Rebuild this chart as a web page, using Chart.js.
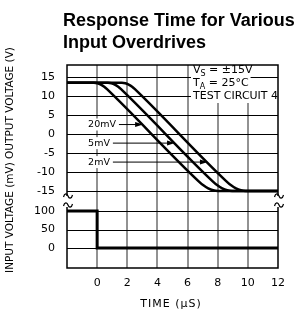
<!DOCTYPE html>
<html>
<head>
<meta charset="utf-8">
<script src="https://cdn.jsdelivr.net/npm/chart.js@4.4.0/dist/chart.umd.min.js"></script>
<style>
  html, body { margin: 0; padding: 0; background: #fff; }
</style>
</head>
<body>
<canvas id="chart" width="298" height="317"></canvas>
<script>
// tick labels
const timeTicks = [0, 2, 4, 6, 8, 10, 12];
const outTicks = [15, 10, 5, 0, -5, -10, -15];
const inTicks = [100, 50, 0];

// input step (mV)
const inputTime = [-2, 0, 0, 12];
const inputMv = [100, 100, 0, 0];

// output voltage (V) for each overdrive
const time20mV = [-2, -0.21, 0.02, 0.24, 0.47, 0.69, 6.72, 7.05, 7.37, 7.7, 8.02, 12];
const out20mV = [13.5, 13.5, 13.39, 13.05, 12.49, 11.7, -12.4, -13.54, -14.35, -14.84, -15, -15];
const time5mV = [-2, 0.72, 0.95, 1.17, 1.4, 1.62, 7.65, 7.98, 8.3, 8.63, 8.95, 12];
const out5mV = [13.5, 13.5, 13.39, 13.05, 12.49, 11.7, -12.4, -13.54, -14.35, -14.84, -15, -15];
const time2mV = [-2, 1.64, 1.87, 2.09, 2.32, 2.54, 8.56, 8.89, 9.21, 9.54, 9.86, 12];
const out2mV = [13.5, 13.5, 13.39, 13.05, 12.49, 11.7, -12.4, -13.54, -14.35, -14.84, -15, -15];

// curve labels with arrows
const arrowText = ['20mV', '5mV', '2mV'];
const arrowVolt = [2.5, -2.4, -7.4];
const arrowTipTime = [3.05, 5.17, 7.35];

// test conditions
const condMain = ['V', 'T', 'TEST CIRCUIT 4'];
const condSub = ['S', 'A', ''];
const condRest = [' = \u00b115V', ' = 25\u00b0C', ''];

const FONT = '"DejaVu Sans", sans-serif';
Chart.defaults.font.family = FONT;
Chart.defaults.color = '#000';

function pts(xs, ys) {
    return xs.map((x, i) => ({ x: x, y: ys[i] }));
}

function tilde(ctx, x, y) {
    ctx.beginPath();
    ctx.moveTo(x - 4.5, y + 1);
    ctx.bezierCurveTo(x - 3.5, y - 3, x - 1, y - 3, x, y);
    ctx.bezierCurveTo(x + 1, y + 3, x + 3.5, y + 3, x + 4.5, y - 1);
    ctx.stroke();
}

// grid drawn under the curves
const gridLines = {
    id: 'gridLines',
    beforeDatasetsDraw(chart) {
        const ctx = chart.ctx;
        const a = chart.chartArea;
        const xs = chart.scales.x, yo = chart.scales.yOut, yi = chart.scales.yIn;
        ctx.save();
        ctx.strokeStyle = '#777';
        ctx.lineWidth = 1.6;
        timeTicks.filter(v => v > -2 && v < 12).forEach(v => {
            const px = Math.round(xs.getPixelForValue(v));
            ctx.beginPath();
            ctx.moveTo(px, a.top);
            ctx.lineTo(px, a.bottom);
            ctx.stroke();
        });
        ctx.strokeStyle = '#000';
        ctx.lineWidth = 1;
        outTicks.forEach(v => {
            const py = Math.round(yo.getPixelForValue(v)) + 0.5;
            ctx.beginPath();
            ctx.moveTo(a.left, py);
            ctx.lineTo(a.right, py);
            ctx.stroke();
        });
        inTicks.forEach(v => {
            const py = Math.round(yi.getPixelForValue(v)) + 0.5;
            ctx.beginPath();
            ctx.moveTo(a.left, py);
            ctx.lineTo(a.right, py);
            ctx.stroke();
        });
        ctx.restore();
    }
};

const decor = {
    id: 'decor',
    afterDraw(chart) {
        const ctx = chart.ctx;
        const a = chart.chartArea;
        const xs = chart.scales.x, yo = chart.scales.yOut;
        const split = yo.bottom;
        ctx.save();
        ctx.fillStyle = '#000';

        // title
        ctx.font = 'bold 18px "Liberation Sans", Arial, sans-serif';
        ctx.textAlign = 'left';
        ctx.textBaseline = 'alphabetic';
        ctx.fillText('Response Time for Various', 63, 26);
        ctx.fillText('Input Overdrives', 63, 48);

        // test conditions
        const base = [73, 86, 99];
        condMain.forEach((m, i) => {
            const x0 = 193;
            ctx.font = '11px ' + FONT;
            const wm = ctx.measureText(m).width;
            const wr = ctx.measureText(condRest[i]).width;
            ctx.font = '8px ' + FONT;
            const ws = ctx.measureText(condSub[i]).width;
            ctx.fillStyle = '#fff';
            ctx.fillRect(x0 - 2, base[i] - 10, wm + ws + wr + 4, 14);
            ctx.fillStyle = '#000';
            ctx.font = '11px ' + FONT;
            ctx.fillText(m, x0, base[i]);
            ctx.font = '8px ' + FONT;
            ctx.fillText(condSub[i], x0 + wm, base[i] + 3);
            ctx.font = '11px ' + FONT;
            ctx.fillText(condRest[i], x0 + wm + ws, base[i]);
        });

        // curve labels
        ctx.font = '9.5px ' + FONT;
        ctx.textBaseline = 'middle';
        arrowText.forEach((t, i) => {
            const y = yo.getPixelForValue(arrowVolt[i]);
            const x0 = xs.getPixelForValue(-0.6);
            const w = ctx.measureText(t).width;
            const tip = xs.getPixelForValue(arrowTipTime[i]);
            ctx.fillStyle = '#fff';
            ctx.fillRect(x0 - 1, y - 6, w + 2, 12);
            ctx.fillStyle = '#000';
            ctx.fillText(t, x0, y);
            ctx.strokeStyle = '#000';
            ctx.lineWidth = 1;
            ctx.beginPath();
            ctx.moveTo(x0 + w + 3, y);
            ctx.lineTo(tip - 5, y);
            ctx.stroke();
            ctx.beginPath();
            ctx.moveTo(tip, y);
            ctx.lineTo(tip - 8, y - 2.5);
            ctx.lineTo(tip - 8, y + 2.5);
            ctx.closePath();
            ctx.fill();
        });

        // frame with broken sides
        const gapTop = split - 4, gapBottom = split + 7;
        ctx.strokeStyle = '#000';
        ctx.lineWidth = 1.5;
        ctx.beginPath();
        ctx.moveTo(a.left, gapTop);
        ctx.lineTo(a.left, a.top);
        ctx.lineTo(a.right, a.top);
        ctx.lineTo(a.right, gapTop);
        ctx.moveTo(a.left, gapBottom);
        ctx.lineTo(a.left, a.bottom);
        ctx.lineTo(a.right, a.bottom);
        ctx.lineTo(a.right, gapBottom);
        ctx.stroke();

        ctx.lineWidth = 1.2;
        [a.left + 1, a.right + 1].forEach(bx => {
            tilde(ctx, bx, split - 4);
            tilde(ctx, bx, split + 5);
        });

        // axis titles
        ctx.font = '11px ' + FONT;
        ctx.letterSpacing = '1px';
        ctx.textAlign = 'center';
        ctx.textBaseline = 'middle';
        ctx.fillText('TIME (\u03bcS)', 171, 304);
        ctx.translate(10, 160);
        ctx.rotate(-Math.PI / 2);
        ctx.font = '10.5px ' + FONT;
        ctx.letterSpacing = '0px';
        ctx.fillText('INPUT VOLTAGE (mV) OUTPUT VOLTAGE (V)', 0, 0);
        ctx.restore();
    }
};

const lineStyle = {
    showLine: true,
    borderColor: '#000',
    backgroundColor: '#000',
    pointRadius: 0,
    fill: false
};

const chart = new Chart(document.getElementById('chart'), {
    type: 'scatter',
    data: {
        datasets: [
            Object.assign({ data: pts(inputTime, inputMv), yAxisID: 'yIn', borderWidth: 3, tension: 0 }, lineStyle),
            Object.assign({ data: pts(time20mV, out20mV), yAxisID: 'yOut', borderWidth: 2.5, cubicInterpolationMode: 'monotone' }, lineStyle),
            Object.assign({ data: pts(time5mV, out5mV), yAxisID: 'yOut', borderWidth: 2.5, cubicInterpolationMode: 'monotone' }, lineStyle),
            Object.assign({ data: pts(time2mV, out2mV), yAxisID: 'yOut', borderWidth: 2.5, cubicInterpolationMode: 'monotone' }, lineStyle)
        ]
    },
    options: {
        responsive: false,
        animation: false,
        layout: { padding: { left: 27, top: 65, right: 20, bottom: 0 } },
        plugins: { legend: { display: false }, tooltip: { enabled: false } },
        scales: {
            x: {
                type: 'linear',
                position: 'bottom',
                min: -2,
                max: 12,
                afterBuildTicks: s => { s.ticks = timeTicks.map(v => ({ value: v })); },
                afterFit: s => { s.height = 49; },
                ticks: { padding: 1, font: { size: 11 }, maxRotation: 0, autoSkip: false },
                grid: { display: false },
                border: { display: false }
            },
            yOut: {
                type: 'linear',
                axis: 'y',
                position: 'left',
                stack: 'v',
                stackWeight: 135,
                weight: 2,
                min: -17.4,
                max: 18.2,
                afterBuildTicks: s => { s.ticks = outTicks.map(v => ({ value: v })); },
                afterFit: s => { s.width = 40; },
                ticks: { padding: 4, font: { size: 11 }, autoSkip: false },
                grid: { display: false },
                border: { display: false }
            },
            yIn: {
                type: 'linear',
                axis: 'y',
                position: 'left',
                stack: 'v',
                stackWeight: 68,
                weight: 1,
                min: -54,
                max: 130,
                afterBuildTicks: s => { s.ticks = inTicks.map(v => ({ value: v })); },
                afterFit: s => { s.width = 40; },
                ticks: { padding: 4, font: { size: 11 }, autoSkip: false },
                grid: { display: false },
                border: { display: false }
            }
        }
    },
    plugins: [gridLines, decor]
});
</script>
</body>
</html>
